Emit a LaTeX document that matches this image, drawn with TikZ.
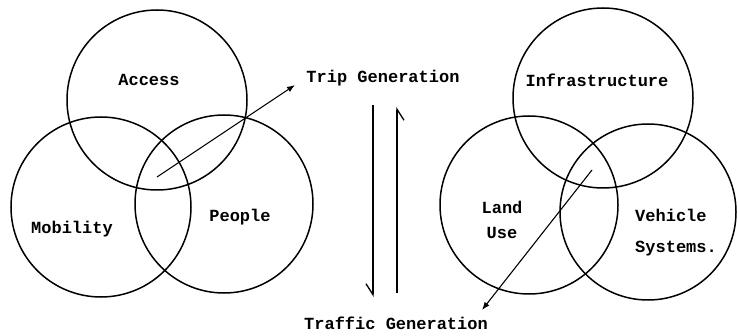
\documentclass[tikz,border=0pt]{standalone}
\usepackage{fontspec}
\setmonofont{Liberation Mono}
\usepackage{tikz}
\usetikzlibrary{arrows.meta}
\usetikzlibrary{positioning}

\tikzset{
  ring/.style={circle, draw, line width=1.5pt, minimum size=180pt, inner sep=0pt},
  lbl/.style={font=\fontsize{17}{20}\selectfont\ttfamily\bfseries, inner sep=1pt},
  pointer/.style={line width=1.1pt, -{Latex[length=8pt,width=6pt]}},
  halfhead/.style={line width=1.3pt, -{Straight Barb[harpoon,swap,length=11pt,width=14pt]}}
}

\begin{document}
\begin{tikzpicture}[x=1pt, y=-1pt]
    \useasboundingbox (0,0) rectangle (738,336);
    \node[ring] (access) at (157,100) {};
    \node[ring] (mobility) at (101,207) {};
    \node[ring, minimum size=178pt] (people) at (224,204) {};
    \node[lbl] (accesslbl) at (149,80) {Access};
    \node[lbl] (mobilitylbl) at (72,229) {Mobility};
    \node[lbl] (peoplelbl) at (240,217) {People};
    \node[ring] (infra) at (603,98) {};
    \node[ring, minimum size=178pt] (landuse) at (529,205) {};
    \node[ring, minimum size=176pt] (vehicle) at (648,212) {};
    \node[lbl] (infralbl) at (597,80) {Infrastructure};
    \node[lbl, align=center] (landuselbl) at (502,220) {Land\\[5pt]Use};
    \node[lbl, align=left, anchor=west] (vehiclelbl) at (634,232.5) {Vehicle\\[11pt]Systems.};
    \node[lbl] (trip) at (383,78) {Trip Generation};
    \node[lbl] (traffic) at (396,323) {Traffic Generation};
    \coordinate (tripsrc) at (157,177);
    \coordinate (triptip) at (295,85);
    \coordinate (trafficsrc) at (592,170);
    \coordinate (traffictip) at (482,310);
    \draw[pointer] (tripsrc) -- (triptip);
    \draw[pointer] (trafficsrc) -- (traffictip);
    \coordinate (downtop) at (373,105);
    \coordinate (downend) at (373,297);
    \coordinate (upbot) at (397,293);
    \coordinate (uptop) at (397,107);
    \draw[halfhead] (downtop) -- (downend);
    \draw[halfhead] (upbot) -- (uptop);
\end{tikzpicture}
\end{document}
